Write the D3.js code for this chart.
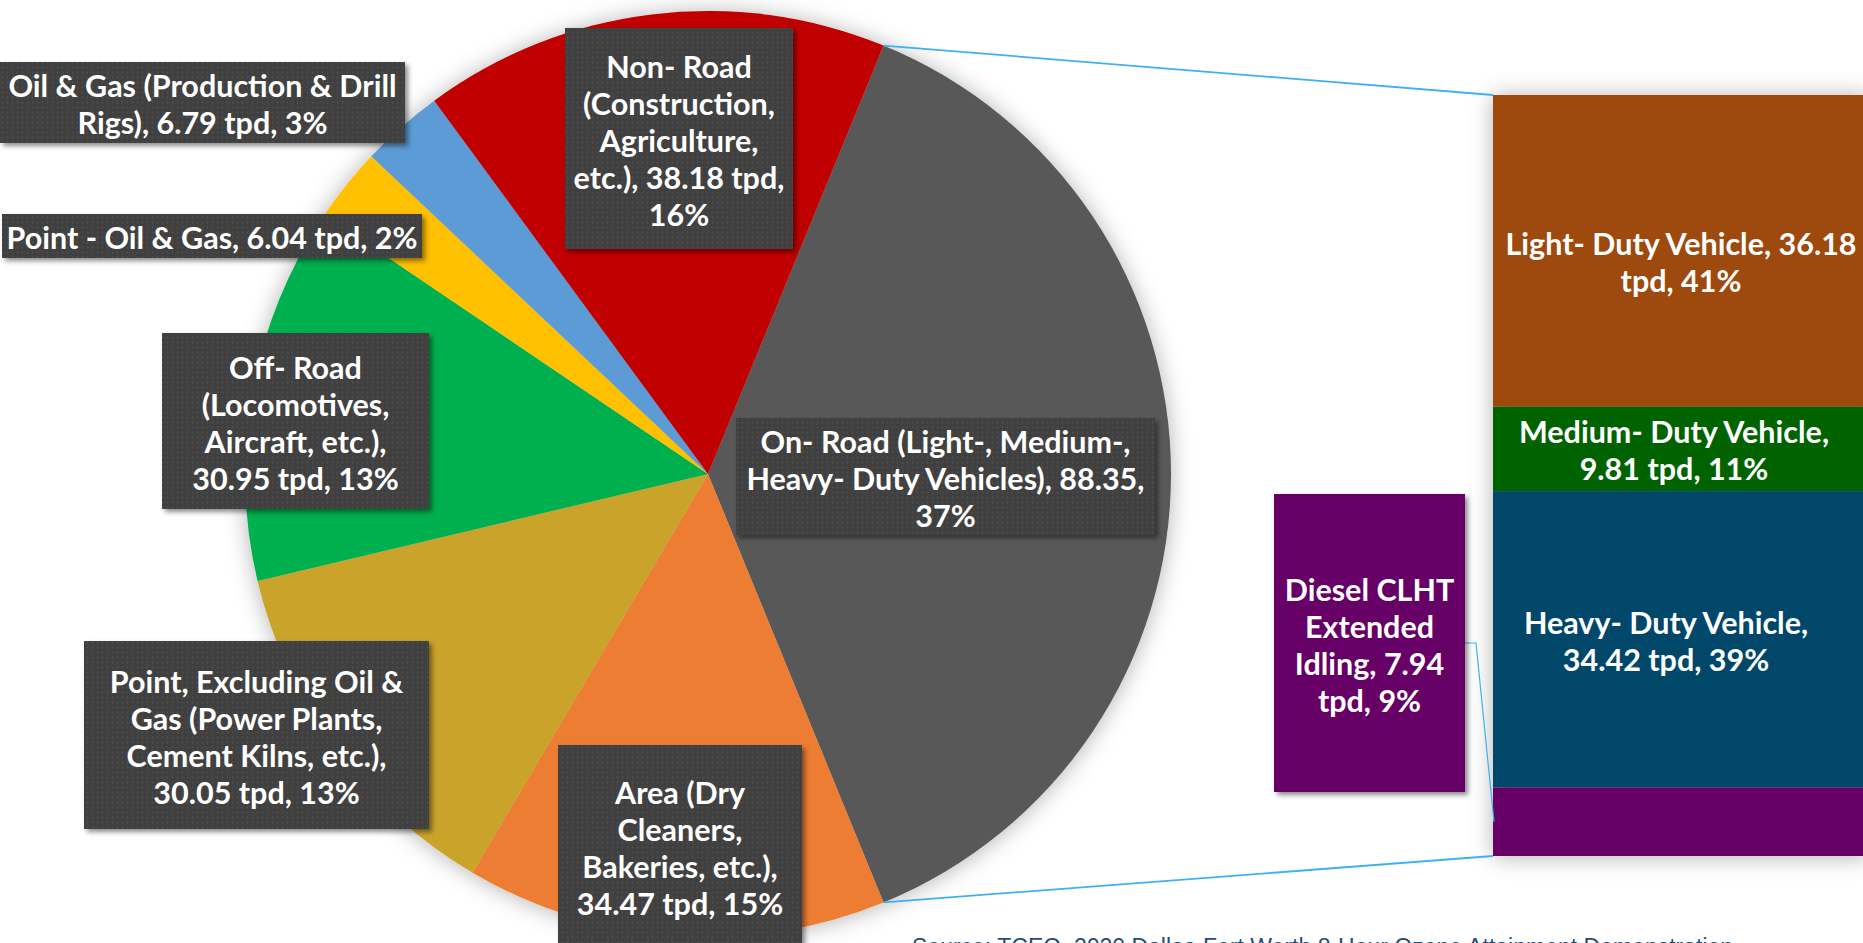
<!DOCTYPE html>
<html><head><meta charset="utf-8">
<script src="https://cdn.jsdelivr.net/npm/d3@7"></script>
<style>
html,body{margin:0;padding:0;background:#fff;overflow:hidden}
svg{display:block}
</style></head><body>
<svg id="chart" width="1863" height="943"></svg>
<script>
// ---------- DATA ----------
const pieCategories = ["On- Road", "Area", "Point, Excluding Oil & Gas", "Off- Road", "Point - Oil & Gas", "Oil & Gas (Production & Drill Rigs)", "Non- Road"];
const pieValues = [88.35, 34.47, 30.05, 30.95, 6.04, 6.79, 38.18];
const pieColors = ["#595959", "#ed7d31", "#c9a32c", "#00b050", "#ffc000", "#5b9bd5", "#c00000"];
const pieLabels = [
  ["On- Road (Light-, Medium-,", "Heavy- Duty Vehicles), 88.35,", "37%"],
  ["Area (Dry", "Cleaners,", "Bakeries, etc.),", "34.47 tpd, 15%"],
  ["Point, Excluding Oil &", "Gas (Power Plants,", "Cement Kilns, etc.),", "30.05 tpd, 13%"],
  ["Off- Road", "(Locomotives,", "Aircraft, etc.),", "30.95 tpd, 13%"],
  ["Point - Oil & Gas, 6.04 tpd, 2%"],
  ["Oil & Gas (Production & Drill", "Rigs), 6.79 tpd, 3%"],
  ["Non- Road", "(Construction,", "Agriculture,", "etc.), 38.18 tpd,", "16%"]
];
const barCategories = ["Light- Duty Vehicle", "Medium- Duty Vehicle", "Heavy- Duty Vehicle", "Diesel CLHT Extended Idling"];
const barValues = [36.18, 9.81, 34.42, 7.94];
const barColors = ["#9e480e", "#006400", "#00466b", "#660066"];
const barLabels = [
  ["Light- Duty Vehicle, 36.18", "tpd, 41%"],
  ["Medium- Duty Vehicle,", "9.81 tpd, 11%"],
  ["Heavy- Duty Vehicle,", "34.42 tpd, 39%"],
  ["Diesel CLHT", "Extended", "Idling, 7.94", "tpd, 9%"]
];
const sourceNote = "Source: TCEQ, 2020 Dallas-Fort Worth 8-Hour Ozone Attainment Demonstration";

// ---------- LAYOUT ----------
const pieCx = 708, pieCy = 474, pieR = 463;
const barX0 = 1493, barX1 = 1870, barY0 = 95, barY1 = 856;
const pieLabelBoxes = [
  [736, 418, 1155, 535],
  [558, 745, 802, 948],
  [84, 641, 429, 829],
  [162, 333, 429, 509],
  [2, 214, 422, 258],
  [0, 62, 405, 143],
  [565, 28, 793, 249]
];
const barLabelCenterX = 1674;
const barLabelOffsets = [[7, 10], [0, 0], [-8, 0]];
const dieselBox = [1274, 494, 1465, 792];
const fontSize = 30.5, lineStep = 37;
const connectorColor = "#3fb1f2";

const svg = d3.select("#chart");
const defs = svg.append("defs");

// shadows
const fBig = defs.append("filter").attr("id", "bigShadow")
  .attr("x", "-20%").attr("y", "-20%").attr("width", "140%").attr("height", "140%");
fBig.append("feDropShadow").attr("dx", 0).attr("dy", 1).attr("stdDeviation", 11)
  .attr("flood-color", "#000").attr("flood-opacity", 0.3);
const fSmall = defs.append("filter").attr("id", "boxShadow")
  .attr("x", "-10%").attr("y", "-10%").attr("width", "130%").attr("height", "130%");
fSmall.append("feDropShadow").attr("dx", 3).attr("dy", 3).attr("stdDeviation", 2.5)
  .attr("flood-color", "#000").attr("flood-opacity", 0.45);

// dotted texture for label boxes
const pat = defs.append("pattern").attr("id", "dots").attr("patternUnits", "userSpaceOnUse")
  .attr("width", 5).attr("height", 5);
pat.append("rect").attr("width", 5).attr("height", 5).attr("fill", "#3f3f3f");
pat.append("circle").attr("cx", 2.5).attr("cy", 2.5).attr("r", 0.9).attr("fill", "#505050");

// ---------- PIE ----------
const total = d3.sum(pieValues);
const start = Math.PI / 2 - Math.PI * pieValues[0] / total;
const pie = d3.pie().sort(null).value(d => d).startAngle(start).endAngle(start + 2 * Math.PI);
const arcs = pie(pieValues);
const arc = d3.arc().innerRadius(0).outerRadius(pieR);

const pieG = svg.append("g").attr("transform", `translate(${pieCx},${pieCy})`)
  .attr("filter", "url(#bigShadow)");
pieG.selectAll("path").data(arcs).join("path")
  .attr("d", arc).attr("fill", (d, i) => pieColors[i]);

// ---------- BAR ----------
const yBar = d3.scaleLinear().domain([0, d3.sum(barValues)]).range([barY0, barY1]);
const cum = d3.cumsum(barValues);
const stacks = barValues.map((v, i) => ({ i, y0: cum[i] - v, y1: cum[i] }));
const barG = svg.append("g").attr("filter", "url(#bigShadow)");
barG.selectAll("rect").data(stacks).join("rect")
  .attr("x", barX0).attr("width", barX1 - barX0)
  .attr("y", d => yBar(d.y0)).attr("height", d => yBar(d.y1) - yBar(d.y0))
  .attr("fill", d => barColors[d.i]);

// ---------- CONNECTORS ----------
const g0 = arcs[0];
const pt = a => [pieCx + pieR * Math.sin(a), pieCy - pieR * Math.cos(a)];
const pTop = pt(g0.startAngle), pBot = pt(g0.endAngle);
svg.append("line").attr("x1", pTop[0]).attr("y1", pTop[1]).attr("x2", barX0).attr("y2", yBar(0))
  .attr("stroke", connectorColor).attr("stroke-width", 1.8);
svg.append("line").attr("x1", pBot[0]).attr("y1", pBot[1]).attr("x2", barX0).attr("y2", yBar(d3.sum(barValues)))
  .attr("stroke", connectorColor).attr("stroke-width", 1.8);

// ---------- TEXT HELPERS ----------
function drawLines(g, lines, cx, cy) {
  const n = lines.length;
  g.append("text").attr("text-anchor", "middle")
    .attr("font-family", "Lato, 'Open Sans', sans-serif").attr("font-weight", 700)
    .attr("font-size", fontSize).attr("fill", "#fff")
    .selectAll("tspan").data(lines).join("tspan")
    .attr("x", cx).attr("y", (d, i) => cy + (i - (n - 1) / 2) * lineStep + 13)
    .text(d => d);
}

// pie labels
const lblG = svg.append("g");
pieLabels.forEach((lines, i) => {
  const [x0, y0, x1, y1] = pieLabelBoxes[i];
  const g = lblG.append("g");
  g.append("rect").attr("x", x0).attr("y", y0).attr("width", x1 - x0).attr("height", y1 - y0)
    .attr("fill", "url(#dots)").attr("filter", "url(#boxShadow)");
  drawLines(g, lines, (x0 + x1) / 2, (y0 + y1) / 2);
});

// bar labels (first three inside bar)
stacks.slice(0, 3).forEach((s, i) => {
  const cy = (yBar(s.y0) + yBar(s.y1)) / 2 + barLabelOffsets[i][1];
  drawLines(svg.append("g"), barLabels[i], barLabelCenterX + barLabelOffsets[i][0], cy);
});

// diesel callout
{
  const [x0, y0, x1, y1] = dieselBox;
  const s = stacks[3];
  const yMid = (yBar(s.y0) + yBar(s.y1)) / 2;
  const cyBox = (y0 + y1) / 2;
  svg.append("path")
    .attr("d", `M${x1},${cyBox}L${x1 + 11},${cyBox}L${barX0 + 1},${yMid}`)
    .attr("fill", "none").attr("stroke", connectorColor).attr("stroke-width", 1.2);
  const g = svg.append("g");
  g.append("rect").attr("x", x0).attr("y", y0).attr("width", x1 - x0).attr("height", y1 - y0)
    .attr("fill", barColors[3]).attr("filter", "url(#boxShadow)");
  drawLines(g, barLabels[3], (x0 + x1) / 2, cyBox);
}

// source note
svg.append("text").attr("x", 912).attr("y", 955)
  .attr("font-family", "'Liberation Sans', Arial, sans-serif").attr("font-size", 23)
  .attr("fill", "#1f4e79").text(sourceNote);
</script>
</body></html>
